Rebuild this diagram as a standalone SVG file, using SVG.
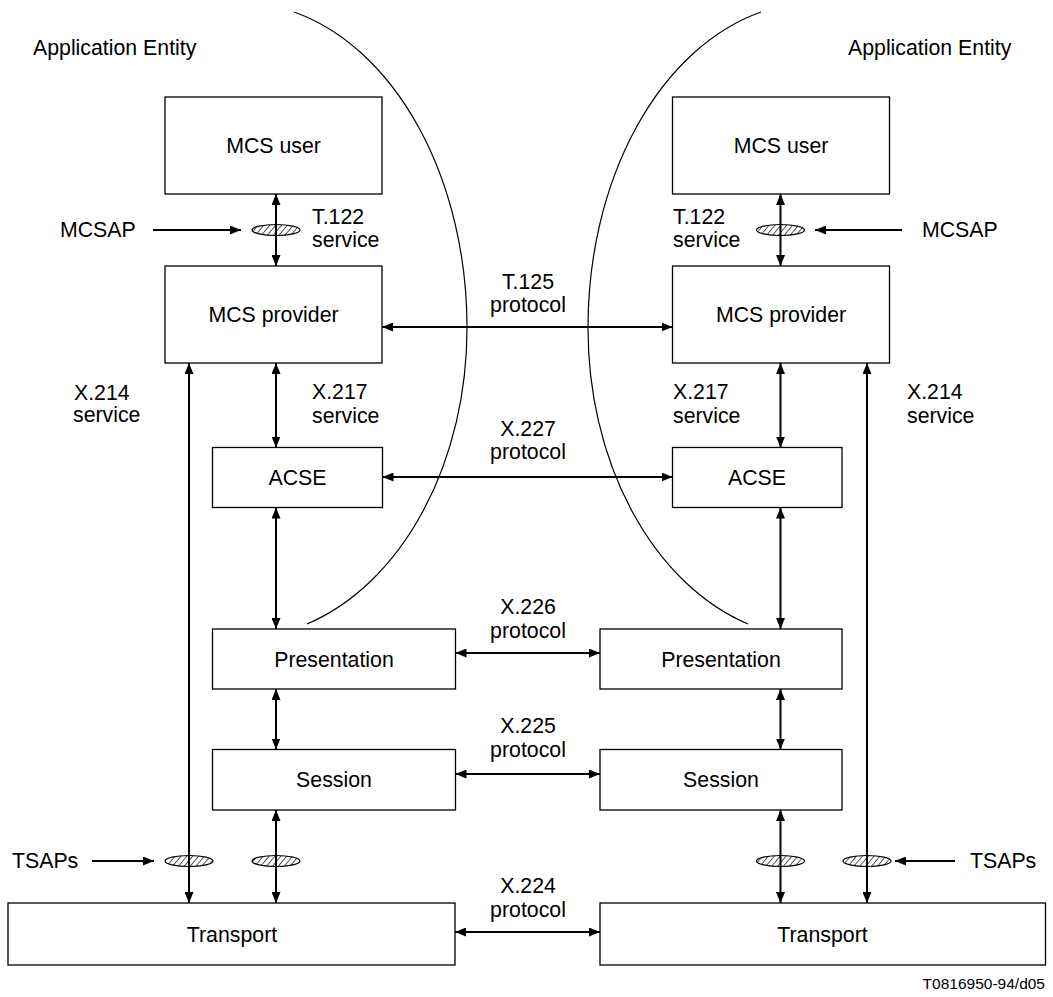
<svg xmlns="http://www.w3.org/2000/svg" width="1053" height="997" viewBox="0 0 1053 997">
<style>
text{font-family:"Liberation Sans",Arial,sans-serif;font-size:21.3px;fill:#000}
.c{text-anchor:middle}
.box{fill:#fff;stroke:#000;stroke-width:1.3}
.arc{fill:none;stroke:#000;stroke-width:1.2}
.sap{fill:url(#hatch);stroke:#000;stroke-width:1.2}
.dbl{stroke:#000;stroke-width:2;fill:none;marker-start:url(#ah);marker-end:url(#ah)}
.one{stroke:#000;stroke-width:2;fill:none;marker-end:url(#ah)}
.foot{font-size:15.5px;text-anchor:end}
</style>
<defs>
<marker id="ah" viewBox="0 0 11 9" refX="11" refY="4.5" markerWidth="11" markerHeight="9" markerUnits="userSpaceOnUse" orient="auto-start-reverse">
<path d="M0,0 L11,4.5 L0,9 z" fill="#000"/>
</marker>
<pattern id="hatch" width="4.5" height="4.5" patternUnits="userSpaceOnUse" patternTransform="rotate(40)">
<rect width="4.5" height="4.5" fill="#fff"/>
<line x1="0" y1="0" x2="0" y2="4.5" stroke="#000" stroke-width="1.3"/>
</pattern>
</defs>

<g id="arcs">
<path class="arc" d="M294,12 A228,325 0 0,1 467,327 A228,310 0 0,1 307,624"/>
<path class="arc" d="M761,12 A228,325 0 0,0 588,327 A228,310 0 0,0 748,624"/>
</g>

<g id="ae-left"><text x="33" y="55">Application Entity</text></g>
<g id="ae-right"><text x="848" y="55">Application Entity</text></g>

<g id="mcs-user-l"><rect class="box" x="165" y="97" width="217" height="97"/><text class="c" x="273.5" y="153">MCS user</text></g>
<g id="mcs-prov-l"><rect class="box" x="165" y="266" width="217" height="97"/><text class="c" x="273.5" y="322">MCS provider</text></g>
<g id="acse-l"><rect class="box" x="212.5" y="447.5" width="170" height="60"/><text class="c" x="297.5" y="485">ACSE</text></g>
<g id="pres-l"><rect class="box" x="212.5" y="629" width="243" height="60"/><text class="c" x="334" y="667">Presentation</text></g>
<g id="sess-l"><rect class="box" x="212.5" y="749.5" width="243" height="60.5"/><text class="c" x="334" y="787">Session</text></g>
<g id="trans-l"><rect class="box" x="8" y="903" width="447" height="62"/><text class="c" x="232" y="942">Transport</text></g>

<g id="mcs-user-r"><rect class="box" x="672.5" y="97" width="217" height="97"/><text class="c" x="781" y="153">MCS user</text></g>
<g id="mcs-prov-r"><rect class="box" x="672.5" y="266" width="217" height="97"/><text class="c" x="781" y="322">MCS provider</text></g>
<g id="acse-r"><rect class="box" x="672.5" y="447.5" width="169.5" height="60"/><text class="c" x="757" y="485">ACSE</text></g>
<g id="pres-r"><rect class="box" x="600" y="629" width="242" height="60"/><text class="c" x="721" y="667">Presentation</text></g>
<g id="sess-r"><rect class="box" x="600" y="749.5" width="242" height="60.5"/><text class="c" x="721" y="787">Session</text></g>
<g id="trans-r"><rect class="box" x="600" y="903" width="445.5" height="62"/><text class="c" x="822.5" y="942">Transport</text></g>

<g id="sap-mcs-l"><ellipse class="sap" cx="276" cy="230" rx="24" ry="5.5"/></g>
<g id="sap-mcs-r"><ellipse class="sap" cx="780.5" cy="230" rx="24" ry="5.5"/></g>
<g id="sap-t-l1"><ellipse class="sap" cx="189" cy="861" rx="24" ry="5.5"/></g>
<g id="sap-t-l2"><ellipse class="sap" cx="276" cy="861" rx="24" ry="5.5"/></g>
<g id="sap-t-r1"><ellipse class="sap" cx="780.5" cy="861" rx="24" ry="5.5"/></g>
<g id="sap-t-r2"><ellipse class="sap" cx="867" cy="861" rx="24" ry="5.5"/></g>

<g id="labels">
<text x="60" y="237">MCSAP</text>
<text x="922" y="237">MCSAP</text>
<text x="12" y="868">TSAPs</text>
<text x="970" y="868">TSAPs</text>
<text x="312" y="224">T.122</text><text x="312" y="247">service</text>
<text x="673" y="224">T.122</text><text x="673" y="247">service</text>
<text class="c" x="528" y="289">T.125</text><text class="c" x="528" y="312">protocol</text>
<text x="74" y="400">X.214</text><text x="73" y="422">service</text>
<text x="312" y="399">X.217</text><text x="312" y="423">service</text>
<text x="673" y="399">X.217</text><text x="673" y="423">service</text>
<text x="907" y="399">X.214</text><text x="907" y="423">service</text>
<text class="c" x="528" y="436">X.227</text><text class="c" x="528" y="459">protocol</text>
<text class="c" x="528" y="614">X.226</text><text class="c" x="528" y="638">protocol</text>
<text class="c" x="528" y="733">X.225</text><text class="c" x="528" y="757">protocol</text>
<text class="c" x="528" y="893">X.224</text><text class="c" x="528" y="917">protocol</text>
<text class="foot" x="1045" y="989">T0816950-94/d05</text>
</g>

<g id="connectors">
<line class="dbl" x1="276" y1="194" x2="276" y2="266"/>
<line class="dbl" x1="276" y1="363" x2="276" y2="447.5"/>
<line class="dbl" x1="276" y1="507.5" x2="276" y2="629"/>
<line class="dbl" x1="276" y1="689" x2="276" y2="749.5"/>
<line class="dbl" x1="276" y1="810" x2="276" y2="903"/>
<line class="dbl" x1="189" y1="363" x2="189" y2="903"/>
<line class="dbl" x1="780.5" y1="194" x2="780.5" y2="266"/>
<line class="dbl" x1="780.5" y1="363" x2="780.5" y2="447.5"/>
<line class="dbl" x1="780.5" y1="507.5" x2="780.5" y2="629"/>
<line class="dbl" x1="780.5" y1="689" x2="780.5" y2="749.5"/>
<line class="dbl" x1="780.5" y1="810" x2="780.5" y2="903"/>
<line class="dbl" x1="867" y1="363" x2="867" y2="903"/>
<line class="dbl" x1="382" y1="327" x2="672.5" y2="327"/>
<line class="dbl" x1="382.5" y1="477" x2="672.5" y2="477"/>
<line class="dbl" x1="455.5" y1="653" x2="600" y2="653"/>
<line class="dbl" x1="455.5" y1="774" x2="600" y2="774"/>
<line class="dbl" x1="455" y1="932" x2="600" y2="932"/>
<line class="one" x1="153" y1="230" x2="241" y2="230"/>
<line class="one" x1="902" y1="230" x2="815" y2="230"/>
<line class="one" x1="92" y1="861" x2="154" y2="861"/>
<line class="one" x1="955" y1="861" x2="895" y2="861"/>
</g>
</svg>
